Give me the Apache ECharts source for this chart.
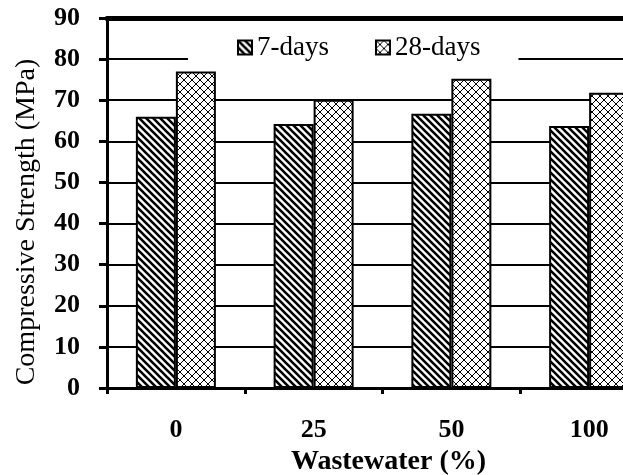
<!DOCTYPE html>
<html>
<head>
<meta charset="utf-8">
<script src="https://cdn.jsdelivr.net/npm/echarts@6/dist/echarts.min.js"></script>
<style>html,body{margin:0;padding:0;background:#fff;overflow:hidden;width:623px;height:475px}#c{width:700px;height:475px}</style>
</head>
<body>
<div id="c"></div>
<script>
const categories = ['0', '25', '50', '100'];
const days7 = [66.0, 64.2, 66.7, 63.7];
const days28 = [77.0, 70.1, 75.2, 71.8];
const yTicks = { min: 0, max: 90, interval: 10 };

function hatch() {
  const s = 7, c = document.createElement('canvas');
  c.width = c.height = s;
  const g = c.getContext('2d');
  g.fillStyle = '#fff'; g.fillRect(0, 0, s, s);
  g.strokeStyle = '#000'; g.lineWidth = 2.6;
  g.beginPath();
  g.moveTo(-1, -1); g.lineTo(s + 1, s + 1);
  g.moveTo(-1, s - 1); g.lineTo(1, s + 1);
  g.moveTo(s - 1, -1); g.lineTo(s + 1, 1);
  g.stroke();
  return c;
}
function cross() {
  const s = 8, c = document.createElement('canvas');
  c.width = c.height = s;
  const g = c.getContext('2d');
  g.fillStyle = '#fff'; g.fillRect(0, 0, s, s);
  g.strokeStyle = '#000'; g.lineWidth = 1;
  g.beginPath();
  g.moveTo(0, 0); g.lineTo(s, s);
  g.moveTo(s, 0); g.lineTo(0, s);
  g.stroke();
  return c;
}

const font = 'Liberation Serif';
const chart = echarts.init(document.getElementById('c'), null, { renderer: 'canvas' });
chart.setOption({
  animation: false,
  backgroundColor: '#fff',
  grid: { left: 107, top: 18, right: 42, bottom: 87, containLabel: false, outerBoundsMode: 'none' },
  legend: {
    data: ['7-days', '28-days'],
    left: 188, top: 28,
    padding: [6, 38, 8, 49],
    backgroundColor: '#fff',
    itemGap: 46, itemWidth: 14, itemHeight: 14,
    icon: 'rect',
    textStyle: { fontFamily: font, fontSize: 27, color: '#000' }
  },
  xAxis: [{
    type: 'category', data: categories, position: 'bottom',
    axisLine: { lineStyle: { color: '#000', width: 3 } },
    axisTick: { show: true, length: 6, lineStyle: { color: '#000', width: 3 } },
    axisLabel: { fontFamily: font, fontSize: 26, fontWeight: 'bold', color: '#000', margin: 29 },
    name: 'Wastewater (%)', nameLocation: 'middle', nameGap: 49,
    nameTextStyle: { fontFamily: font, fontSize: 28, fontWeight: 'bold', color: '#000', padding: [0, 0, 0, 12] }
  }, {
    type: 'category', data: categories, position: 'top',
    axisLine: { lineStyle: { color: '#000', width: 5 } },
    axisTick: { show: false }, axisLabel: { show: false }
  }],
  yAxis: {
    type: 'value', min: yTicks.min, max: yTicks.max, interval: yTicks.interval,
    axisLine: { show: true, lineStyle: { color: '#000', width: 3 } },
    axisTick: { show: true, length: 8, lineStyle: { color: '#000', width: 3 } },
    axisLabel: { fontFamily: font, fontSize: 26, fontWeight: 'bold', color: '#000', margin: 27 },
    splitLine: { show: true, lineStyle: { color: '#000', width: 2 } },
    name: 'Compressive Strength (MPa)', nameLocation: 'middle', nameGap: 66,
    nameTextStyle: { fontFamily: font, fontSize: 28, color: '#000', padding: [0, 38, 0, 0] }
  },
  series: [{
    name: '7-days', type: 'bar', data: days7, barWidth: 40, barGap: '0%',
    itemStyle: { color: { image: hatch(), repeat: 'repeat' }, borderColor: '#000', borderWidth: 2 }
  }, {
    name: '28-days', type: 'bar', data: days28, barWidth: 40,
    itemStyle: { color: { image: cross(), repeat: 'repeat' }, borderColor: '#000', borderWidth: 2 }
  }]
});
</script>
</body>
</html>
